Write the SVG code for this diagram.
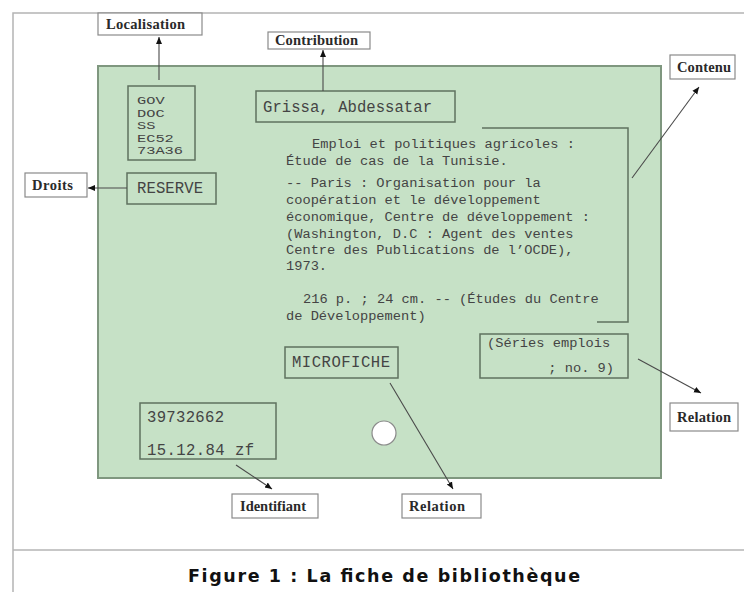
<svg xmlns="http://www.w3.org/2000/svg" width="744" height="592" viewBox="0 0 744 592">
<style>
.frame{stroke:#b4b4b4;stroke-width:1.5;fill:none}
.card{fill:#c6e1c6;stroke:#7f977f;stroke-width:2}
.fbox{fill:none;stroke:#5f725f;stroke-width:1.5}
.lbox{fill:#fff;stroke:#8a8a8a;stroke-width:1.2}
.lbl{font-family:"Liberation Serif",serif;font-size:14.5px;font-weight:bold;fill:#2a2a2a}
.mono{font-family:"Liberation Mono",monospace;font-size:13.7px;fill:#444}
.mono2{font-family:"Liberation Mono",monospace;font-size:15.6px;fill:#444}
.monos{font-family:"Liberation Mono",monospace;font-size:10.8px;fill:#444}
.conn{stroke:#4a4a4a;stroke-width:1.1;fill:none;marker-end:url(#ah)}
.cap{font-family:"DejaVu Sans",Verdana,sans-serif;font-size:17.5px;font-weight:bold;fill:#111}
</style>
<defs>
<marker id="ah" markerWidth="8" markerHeight="8" refX="7" refY="4" orient="auto" markerUnits="userSpaceOnUse">
<path d="M0,1 L7,4 L0,7 Z" fill="#111"/>
</marker>
</defs>
<rect width="744" height="592" fill="#fff"/>
<g id="frame">
<path class="frame" d="M13,592 V13 H744"/>
<path class="frame" d="M13,550 H744"/>
</g>
<g id="card">
<rect class="card" x="98" y="66" width="563" height="412"/>
<circle cx="384" cy="433" r="12" fill="#fff" stroke="#8a8a8a" stroke-width="1.2"/>
</g>
<g id="cote">
<rect class="fbox" x="128" y="86" width="67" height="74"/>
<text class="monos" x="137" y="104" textLength="27.6" lengthAdjust="spacingAndGlyphs">GOV</text>
<text class="monos" x="137" y="116.5" textLength="27.6" lengthAdjust="spacingAndGlyphs">DOC</text>
<text class="monos" x="137" y="129" textLength="18.4" lengthAdjust="spacingAndGlyphs">SS</text>
<text class="monos" x="137" y="141.5" textLength="36.8" lengthAdjust="spacingAndGlyphs">EC52</text>
<text class="monos" x="137" y="154" textLength="46" lengthAdjust="spacingAndGlyphs">73A36</text>
</g>
<g id="reserve">
<rect class="fbox" x="127" y="173" width="89" height="31"/>
<text class="mono2" x="137" y="193" textLength="66">RESERVE</text>
</g>
<g id="auteur">
<rect class="fbox" x="256" y="91" width="199" height="31"/>
<text class="mono2" x="263" y="112" textLength="169">Grissa, Abdessatar</text>
</g>
<g id="contenu-texte">
<path class="fbox" d="M482,128 H628 V322 H597"/>
<text class="mono" x="312" y="148">Emploi et politiques agricoles :</text>
<text class="mono" x="286" y="165">Étude de cas de la Tunisie.</text>
<text class="mono" x="286" y="187">-- Paris : Organisation pour la</text>
<text class="mono" x="286" y="204">coopération et le développement</text>
<text class="mono" x="286" y="221">économique, Centre de développement :</text>
<text class="mono" x="286" y="238">(Washington, D.C : Agent des ventes</text>
<text class="mono" x="286" y="254">Centre des Publications de l’OCDE),</text>
<text class="mono" x="286" y="270">1973.</text>
<text class="mono" x="303" y="303">216 p. ; 24 cm. -- (Études du Centre</text>
<text class="mono" x="286" y="320">de Développement)</text>
</g>
<g id="series">
<rect class="fbox" x="480" y="334" width="148" height="44"/>
<text class="mono" x="487" y="347">(Séries emplois</text>
<text class="mono" x="614" y="372" text-anchor="end">; no. 9)</text>
</g>
<g id="microfiche">
<rect class="fbox" x="285" y="347" width="113" height="31"/>
<text class="mono2" x="292" y="367" textLength="98">MICROFICHE</text>
</g>
<g id="identifiant-bloc">
<rect class="fbox" x="140" y="403" width="136" height="56"/>
<text class="mono2" x="147" y="422" textLength="77">39732662</text>
<text class="mono2" x="147" y="455" textLength="107">15.12.84 zf</text>
</g>
<g id="lbl-localisation">
<rect class="lbox" x="98" y="13" width="104" height="22"/>
<text class="lbl" x="106" y="29" textLength="79">Localisation</text>
</g>
<g id="lbl-contribution">
<rect class="lbox" x="268" y="32" width="102" height="17"/>
<text class="lbl" x="275" y="45" textLength="83">Contribution</text>
</g>
<g id="lbl-droits">
<rect class="lbox" x="25" y="173" width="62" height="24"/>
<text class="lbl" x="32" y="190" textLength="41">Droits</text>
</g>
<g id="lbl-contenu">
<rect class="lbox" x="670" y="55" width="65" height="24"/>
<text class="lbl" x="677" y="72" textLength="54">Contenu</text>
</g>
<g id="lbl-relation1">
<rect class="lbox" x="670" y="403" width="68" height="28"/>
<text class="lbl" x="677" y="422" textLength="54">Relation</text>
</g>
<g id="lbl-relation2">
<rect class="lbox" x="402" y="494" width="79" height="24"/>
<text class="lbl" x="409" y="511" textLength="56">Relation</text>
</g>
<g id="lbl-identifiant">
<rect class="lbox" x="232" y="494" width="86" height="24"/>
<text class="lbl" x="240" y="511" textLength="66">Identifiant</text>
</g>
<g id="connectors">
<line class="conn" x1="159" y1="80" x2="159" y2="37"/>
<line class="conn" x1="323" y1="91" x2="323" y2="50"/>
<line class="conn" x1="127" y1="188" x2="88" y2="188"/>
<line class="conn" x1="632" y1="178" x2="699" y2="87"/>
<line class="conn" x1="638" y1="359" x2="701" y2="393"/>
<line class="conn" x1="390" y1="383" x2="453" y2="489"/>
<line class="conn" x1="236" y1="465" x2="272" y2="489"/>
</g>
<g id="caption">
<text class="cap" x="188" y="582" textLength="392">Figure 1 : La fiche de bibliothèque</text>
</g>
</svg>
